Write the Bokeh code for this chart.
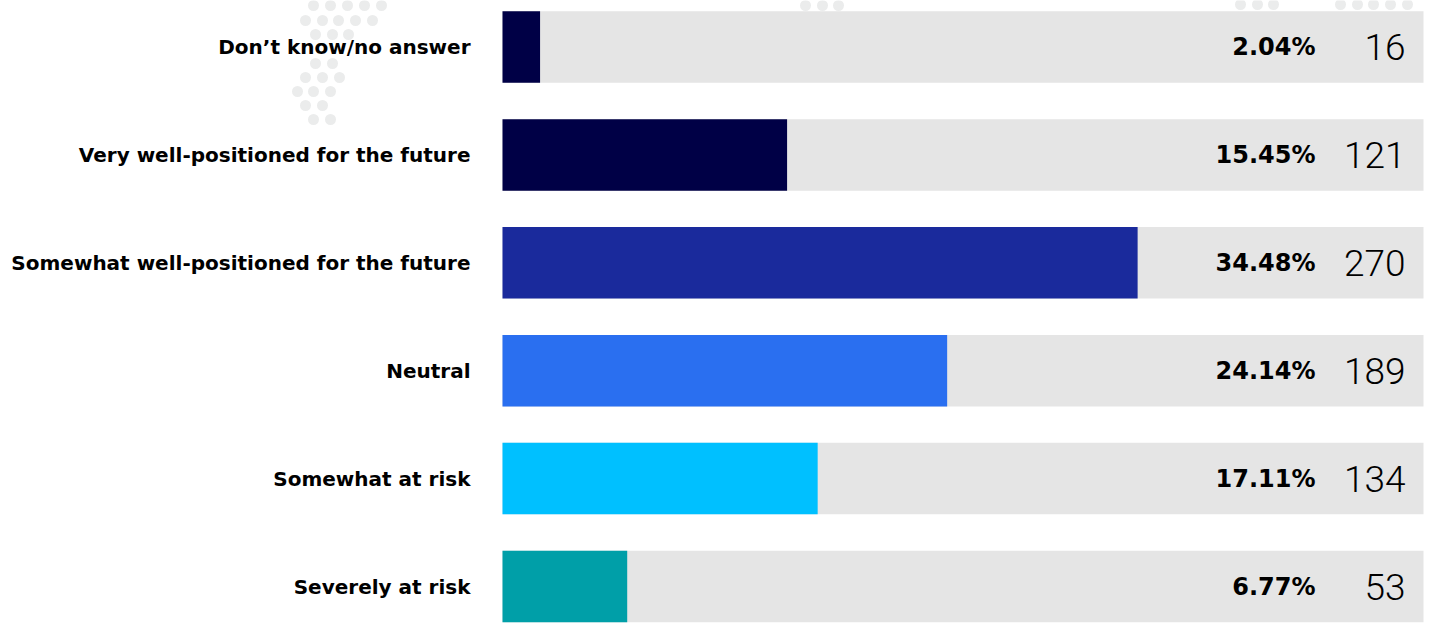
from bokeh.plotting import figure
from bokeh.models import ColumnDataSource, Range1d
from bokeh.core.properties import value
from bokeh.embed import file_html
from bokeh.resources import INLINE

categories = ["Don\u2019t know/no answer", "Very well-positioned for the future",
              "Somewhat well-positioned for the future", "Neutral",
              "Somewhat at risk", "Severely at risk"]
percents = [2.04, 15.45, 34.48, 24.14, 17.11, 6.77]
counts = [16, 121, 270, 189, 134, 53]
colors = ["#000046", "#000046", "#1A2A9C", "#2A6FF0", "#00C0FF", "#009FA8"]
axis_max = 50

W, H = 1431, 623
bar_left_px, bar_right_px = 502, 1423
scale = (bar_right_px - bar_left_px) / axis_max  # px per percent
x0 = -bar_left_px / scale
x1 = (W - bar_left_px) / scale

pitch = 107.9
first_center = 46.5
y_top = -first_center / pitch
y_bot = y_top + H / pitch

p = figure(width=W, height=H, output_backend="svg", toolbar_location=None,
           x_range=Range1d(x0, x1), y_range=Range1d(y_bot, y_top),
           min_border=0, outline_line_color=None)
p.axis.visible = False
p.grid.visible = False
p.background_fill_color = "white"

# decorative dots (background), in pixel coordinates converted to data
dots_px = [(313, 5), (330, 5), (347, 5), (364, 5), (381, 5),
           (305, 20), (322, 20), (338, 20), (355, 20), (372, 20),
           (315, 34), (332, 34), (348, 34),
           (315, 63), (332, 63),
           (305, 77), (322, 77), (339, 77),
           (297, 91), (313, 91), (330, 91),
           (305, 105), (322, 105),
           (313, 119), (330, 119),
           (805, 5), (822, 5), (838, 5),
           (1240, 4), (1257, 4), (1273, 4),
           (1340, 4), (1357, 4), (1373, 4), (1390, 4), (1407, 4)]
p.scatter([x0 + dx / scale for dx, dy in dots_px],
          [y_top + dy / pitch for dx, dy in dots_px],
          size=11, color="#EBECEC", line_color=None)

idx = list(range(len(categories)))
src = ColumnDataSource(dict(
    y=idx, cat=categories, pct=percents, cnt=[str(c) for c in counts],
    pct_lbl=[f"{v:.2f}%" for v in percents], color=colors,
    full=[axis_max] * len(idx)))

bh = 71.5 / pitch
p.hbar(y="y", left=0, right="full", height=bh, source=src, color="#E5E5E5", line_color=None)
p.hbar(y="y", left=0, right="pct", height=bh, source=src, color="color", line_color=None)

p.text(x=-32 / scale, y="y", text="cat", source=src, text_align="right",
       text_baseline="middle", text_font=value("DejaVu Sans"), text_font_style="bold",
       text_font_size="20px", text_color="black")
p.text(x=(1315 - bar_left_px) / scale, y="y", text="pct_lbl", source=src,
       text_align="right", text_baseline="middle", text_font=value("DejaVu Sans"),
       text_font_style="bold", text_font_size="24px", text_color="black")
p.text(x=(1405 - bar_left_px) / scale, y="y", text="cnt", source=src,
       text_align="right", text_baseline="middle", text_font=value("Roboto Light"),
       text_font_size="37px", text_color="black")

open("out.html", "w").write(file_html(p, INLINE))
